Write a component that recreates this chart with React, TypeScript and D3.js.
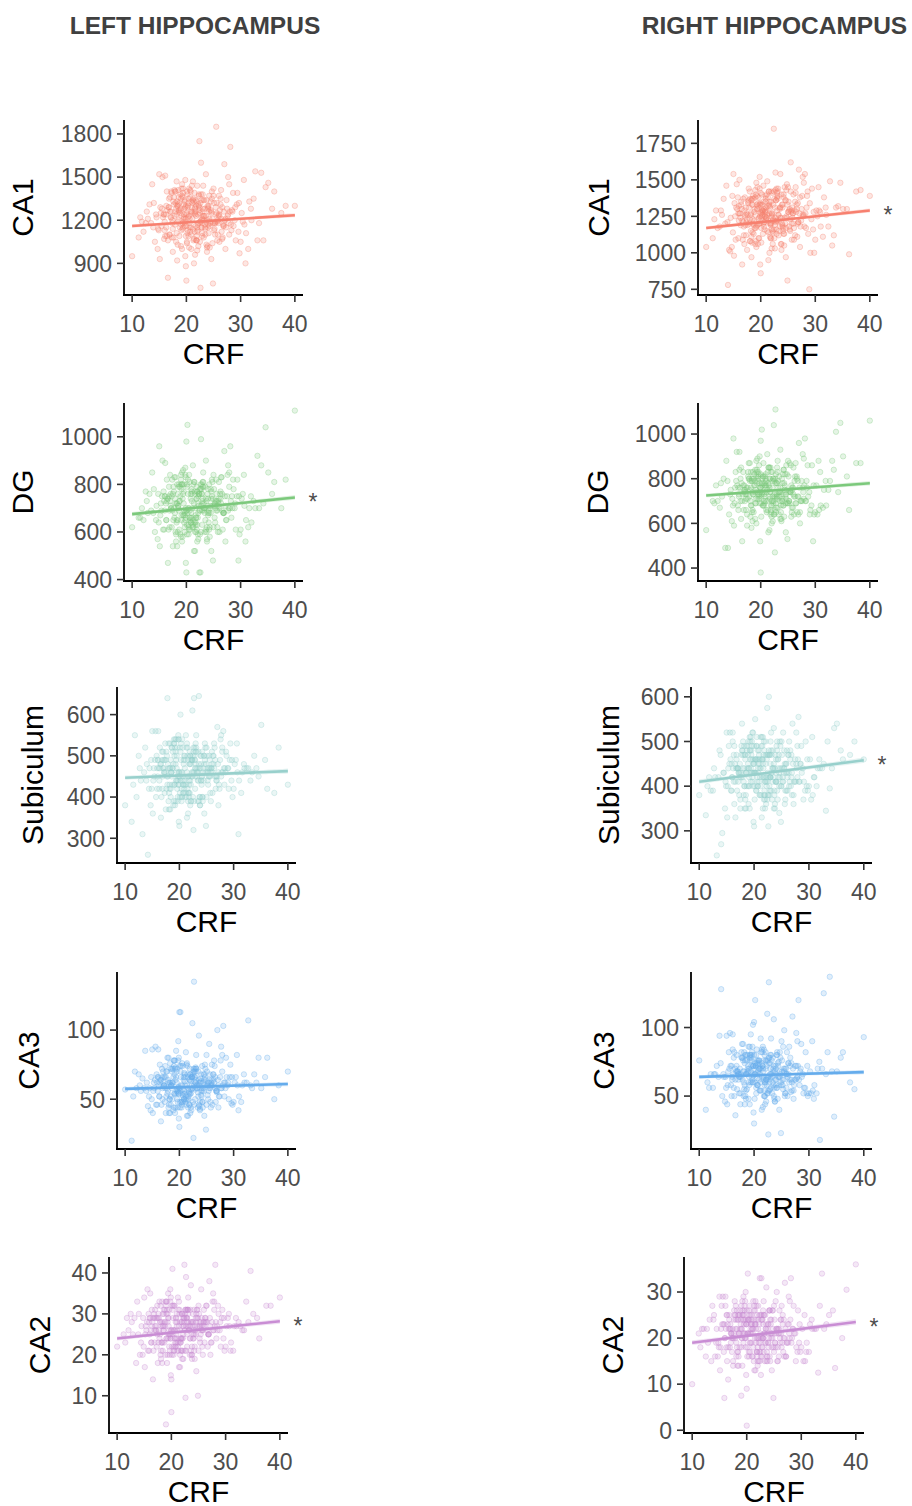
import * as d3 from "d3"

// CRF values, one per participant (shared by every panel)
const crf = [
  18.2, 22.5, 25.1, 19.7, 16.4, 27.3, 21.0, 23.8, 14.9, 20.3,
  26.2, 17.5, 24.4, 29.1, 19.0, 22.0, 15.6, 31.4, 20.8, 18.7,
  23.1, 25.9, 13.2, 21.6, 27.8, 19.4, 16.9, 24.0, 22.7, 35.1,
  17.9, 20.1, 28.6, 18.4, 23.5, 12.1, 26.7, 21.3, 19.9, 30.2,
  16.1, 24.8, 22.2, 33.8, 18.9, 25.5, 20.6, 14.2, 27.0, 23.3,
  19.2, 21.9, 29.8, 17.2, 24.6, 15.3, 22.9, 26.4, 20.0, 38.3,
  18.0, 23.0, 25.3, 11.2, 21.2, 28.1, 19.6, 16.6, 24.2, 32.0,
  22.4, 17.7, 26.9, 20.4, 13.7, 23.7, 19.3, 27.5, 21.7, 15.9,
  25.7, 18.5, 30.6, 22.1, 16.3, 24.9, 20.9, 34.6, 19.1, 23.9,
  14.5, 21.4, 26.0, 18.1, 28.9, 22.6, 17.0, 25.0, 20.2, 10.0,
  23.4, 19.8, 31.9, 16.8, 24.3, 21.1, 27.2, 18.3, 22.8, 36.2,
  15.1, 20.7, 25.6, 19.5, 29.4, 17.4, 23.6, 12.7, 21.8, 26.6,
  18.8, 24.1, 20.5, 33.1, 16.0, 22.3, 27.7, 19.0, 25.2, 14.0,
  21.5, 17.3, 28.3, 23.2, 19.7, 30.9, 15.5, 24.7, 20.0, 40.0,
  22.9, 18.6, 26.3, 13.5, 21.9, 25.4, 17.8, 29.6, 20.6, 23.0,
  16.5, 24.5, 19.4, 27.9, 22.0, 32.7, 18.2, 21.0, 25.8, 11.8,
  20.3, 23.8, 17.1, 26.8, 19.2, 28.4, 15.0, 22.5, 24.0, 37.5,
  18.4, 21.6, 30.0, 16.2, 23.1, 19.9, 26.1, 14.7, 22.2, 31.0,
  19.5, 21.2, 17.6, 24.2, 22.8, 16.7, 20.5, 26.5, 18.9, 23.6,
  21.8, 15.8, 25.3, 20.1, 18.3, 22.4, 27.1, 19.3, 23.9, 17.0,
  24.6, 20.7, 16.9, 22.6, 19.8, 28.7, 21.4, 18.1, 25.6, 13.9,
  17.4, 23.3, 20.9, 26.0, 15.2, 22.1, 19.1, 24.4, 29.3, 21.7,
  20.0, 18.6, 25.0, 22.9, 16.4, 21.0, 27.6, 19.7, 23.5, 12.5,
  22.2, 26.8, 18.0, 20.4, 24.8, 17.2, 21.5, 30.4, 19.5, 23.0,
  15.7, 21.9, 24.1, 19.0, 27.4, 22.5, 18.5, 25.8, 20.8, 33.4,
  23.7, 17.8, 20.2, 28.0, 21.1, 16.1, 24.5, 19.8, 22.7, 14.4,
  19.2, 25.2, 21.6, 17.5, 23.2, 26.3, 20.6, 18.2, 31.6, 22.0,
  24.0, 16.8, 22.3, 19.6, 27.9, 21.3, 18.7, 25.5, 20.3, 35.8,
  21.0, 23.8, 17.9, 26.1, 19.9, 22.8, 15.4, 24.7, 29.0, 20.5,
  18.4, 22.6, 25.9, 20.0, 16.6, 23.4, 19.4, 27.2, 21.7, 12.9,
  25.1, 19.0, 21.8, 17.3, 24.3, 22.0, 28.5, 18.8, 20.9, 32.4,
  22.4, 26.6, 19.7, 23.1, 15.9, 20.7, 24.9, 18.0, 21.5, 30.7,
  17.7, 21.2, 24.0, 19.3, 26.9, 22.9, 16.3, 20.1, 23.6, 14.8,
  23.0, 18.5, 22.1, 25.4, 20.4, 17.1, 27.7, 21.9, 19.6, 34.2,
  20.8, 24.6, 18.3, 22.7, 16.0, 25.7, 21.4, 19.1, 28.2, 11.5,
  26.4, 20.2, 23.5, 17.6, 21.6, 19.9, 24.2, 22.3, 18.6, 29.7,
]

const leftCA1 = [
  1240, 1050, 1320, 1180, 1400, 1150, 1290, 1010, 1130, 1220,
  1270, 980, 1190, 1060, 1350, 1120, 1500, 1000, 1260, 1090,
  1440, 1230, 1310, 960, 1180, 1420, 1100, 1280, 1600, 1460,
  1170, 1040, 1390, 1300, 1140, 1120, 1080, 1350, 880, 1250,
  1510, 1210, 1020, 1530, 1280, 1850, 1150, 1050, 1590, 1230,
  1000, 1330, 970, 1220, 930, 1250, 1180, 1410, 780, 1300,
  1400, 1260, 1100, 1080, 1470, 1710, 1190, 800, 1370, 1200,
  1750, 1310, 1160, 1090, 1450, 1030, 1360, 1280, 1160, 1070,
  1060, 1200, 1480, 1240, 1150, 760, 1330, 1430, 1130, 1300,
  1220, 900, 1370, 1050, 1200, 730, 1260, 1420, 1380, 950,
  1170, 1480, 1280, 1350, 1010, 1210, 1000, 920, 1340, 1400,
  930, 1120, 1250, 1310, 1390, 1180, 1520, 1260, 1060, 1290,
  1250, 1110, 1420, 1060, 1190, 1300, 1500, 1020, 1140, 1320,
  1390, 1080, 1130, 1230, 1160, 900, 1280, 1400, 1240, 1300,
  1090, 1360, 1310, 1180, 1060, 1190, 1410, 1120, 1180, 1380,
  1270, 1330, 1150, 1450, 990, 1540, 1110, 1250, 1200, 1190,
  1300, 980, 1220, 1160, 1450, 1270, 1520, 1190, 1150, 1250,
  1030, 1290, 1050, 1240, 1340, 1210, 1050, 1000, 1180, 1110,
  1210, 1340, 1080, 1260, 1150, 1290, 1230, 1120, 1380, 1190,
  1300, 1240, 1180, 1050, 1330, 1270, 1200, 1140, 1020, 1360,
  1250, 1410, 1100, 1190, 1290, 1160, 1070, 1280, 1320, 1150,
  1200, 1340, 1000, 1240, 1290, 1130, 1420, 1180, 1310, 1260,
  1160, 1270, 1370, 1210, 1090, 1440, 1230, 1330, 1100, 1180,
  1310, 1170, 1260, 1350, 1040, 1400, 1120, 1190, 1220, 1280,
  1220, 1060, 1300, 1170, 1340, 1250, 1310, 1100, 1400, 1180,
  1340, 1230, 1110, 1260, 1320, 1090, 1270, 950, 1200, 1240,
  1370, 1180, 1280, 1140, 1080, 1350, 1210, 1470, 1330, 1150,
  1170, 1290, 1380, 1240, 1100, 1060, 1320, 1240, 1130, 1280,
  1260, 1200, 1400, 1230, 1300, 1150, 1160, 1350, 1290, 1010,
  1190, 1320, 1180, 1250, 1060, 1280, 1390, 1210, 1340, 1210,
  1130, 1270, 1230, 1390, 1160, 1440, 1260, 1150, 1100, 1350,
  1290, 1070, 1340, 1200, 1240, 1360, 1180, 1320, 1250, 1170,
  1360, 1140, 1290, 1180, 1260, 1110, 1300, 1400, 1230, 1140,
  1230, 1410, 1170, 1290, 1320, 1260, 1240, 1090, 1280, 1060,
  1150, 1260, 1300, 1380, 1130, 1190, 1330, 1230, 1170, 1220,
  1210, 1290, 1150, 1330, 1240, 1090, 1210, 1370, 1260, 1320,
]

const rightCA1 = [
  1270, 1100, 1350, 1200, 1330, 1180, 1310, 1060, 1140, 1260,
  1290, 1020, 1240, 1000, 1380, 1160, 1470, 1110, 1280, 1130,
  1420, 1270, 1370, 1000, 1250, 1450, 1120, 1310, 1550, 1300,
  1200, 1070, 1420, 1330, 1180, 1170, 1110, 1380, 920, 1290,
  1500, 1240, 1060, 1310, 1300, 1620, 1180, 1020, 1570, 1260,
  1040, 1350, 1000, 1260, 970, 1250, 1220, 1450, 860, 1430,
  1420, 1290, 1160, 1100, 1490, 1540, 1230, 920, 1380, 1260,
  1850, 1340, 1210, 1130, 1460, 1060, 1390, 1300, 1200, 1100,
  1090, 1230, 1450, 1270, 1190, 810, 1370, 1480, 1170, 1330,
  1240, 950, 1400, 1080, 750, 1030, 1290, 1450, 1400, 1040,
  1220, 1520, 1310, 1370, 1050, 1240, 1040, 970, 1360, 990,
  980, 1160, 1280, 1340, 1440, 1210, 1540, 1290, 1100, 1330,
  1280, 1150, 1460, 1050, 1220, 1330, 1520, 1060, 1180, 780,
  1420, 1120, 1170, 1260, 1200, 1280, 1310, 1430, 1270, 1390,
  1130, 1390, 1350, 1200, 1100, 1230, 1440, 1160, 1210, 1410,
  1300, 1360, 1190, 1480, 1030, 1490, 1150, 1280, 1240, 1290,
  1330, 1020, 1250, 1200, 1480, 1310, 1540, 1220, 1190, 1420,
  1070, 1320, 1090, 1270, 1370, 1250, 1090, 1040, 1220, 1180,
  1320, 1150, 1260, 1400, 1210, 1090, 1350, 1280, 1170, 1240,
  1190, 1380, 1300, 1240, 1110, 1420, 1270, 1330, 1200, 1060,
  1360, 1250, 1180, 1310, 1440, 1130, 1220, 1370, 1290, 1210,
  1270, 1120, 1390, 1200, 1340, 1260, 1080, 1450, 1230, 1310,
  1410, 1200, 1280, 1160, 1350, 1240, 1390, 1100, 1300, 1180,
  1150, 1340, 1230, 1290, 1470, 1190, 1330, 1250, 1060, 1380,
  1300, 1420, 1170, 1260, 1220, 1370, 1140, 1310, 1250, 1120,
  1240, 1360, 1290, 1180, 1400, 1270, 1200, 1330, 1430, 1010,
  1180, 1290, 1350, 1230, 1440, 1120, 1300, 1260, 1380, 1270,
  1330, 1210, 1140, 1380, 1260, 1320, 1190, 1420, 1280, 1300,
  1230, 1400, 1310, 1170, 1280, 1360, 1090, 1250, 1340, 1200,
  1370, 1190, 1270, 1330, 1220, 1150, 1300, 1380, 1110, 1260,
  1280, 1430, 1200, 1310, 1130, 1250, 1390, 1220, 1350, 1180,
  1160, 1300, 1240, 1390, 1270, 1210, 1330, 1080, 1420, 1290,
  1350, 1260, 1180, 1300, 1210, 1440, 1240, 1170, 1310, 1390,
  1220, 1330, 1410, 1150, 1290, 1380, 1260, 1200, 1100, 1320,
  1290, 1170, 1360, 1240, 1320, 1200, 1140, 1400, 1270, 1230,
  1410, 1250, 1310, 1190, 1270, 1340, 1130, 1230, 1370, 1280,
]

const leftDG = [
  720, 590, 780, 680, 820, 650, 760, 560, 640, 700,
  760, 540, 700, 610, 800, 630, 900, 620, 740, 610,
  850, 720, 760, 520, 700, 860, 620, 740, 990, 850,
  680, 590, 820, 760, 650, 650, 610, 800, 470, 740,
  890, 710, 570, 880, 750, 820, 660, 600, 940, 700,
  560, 790, 590, 700, 520, 720, 690, 830, 430, 820,
  830, 740, 640, 660, 880, 960, 690, 470, 800, 640,
  430, 770, 680, 630, 850, 600, 800, 750, 670, 610,
  620, 700, 840, 720, 650, 480, 780, 1040, 650, 760,
  710, 520, 810, 590, 700, 430, 730, 840, 1050, 620,
  680, 870, 750, 790, 580, 700, 560, 540, 780, 810,
  540, 650, 730, 770, 820, 690, 900, 730, 600, 760,
  730, 640, 840, 920, 690, 760, 880, 580, 660, 780,
  810, 620, 660, 720, 670, 560, 750, 820, 980, 1110,
  630, 790, 770, 690, 610, 700, 830, 480, 690, 810,
  740, 780, 670, 850, 560, 700, 640, 730, 710, 700,
  760, 570, 710, 680, 850, 750, 960, 690, 670, 700,
  600, 760, 610, 720, 790, 700, 600, 570, 680, 650,
  720, 650, 790, 680, 760, 610, 700, 830, 590, 740,
  660, 770, 720, 630, 800, 690, 750, 580, 710, 840,
  740, 610, 690, 800, 650, 780, 720, 560, 760, 680,
  820, 700, 640, 740, 670, 590, 780, 710, 750, 630,
  690, 800, 620, 760, 730, 660, 840, 600, 700, 770,
  750, 680, 720, 590, 810, 700, 640, 760, 670, 730,
  610, 740, 690, 820, 650, 780, 710, 600, 760, 700,
  730, 660, 790, 700, 620, 750, 680, 840, 710, 650,
  800, 720, 600, 760, 690, 740, 810, 650, 700, 770,
  680, 750, 710, 640, 790, 620, 730, 690, 820, 760,
  770, 620, 740, 700, 660, 800, 690, 750, 720, 610,
  650, 780, 730, 690, 740, 600, 760, 710, 640, 680,
  710, 840, 660, 750, 620, 770, 700, 790, 680, 730,
  760, 690, 620, 810, 730, 660, 740, 600, 770, 710,
  700, 630, 780, 740, 680, 720, 650, 800, 610, 760,
  790, 710, 660, 730, 620, 760, 690, 740, 800, 720,
  640, 770, 720, 600, 750, 690, 810, 670, 730, 660,
  720, 680, 790, 650, 700, 830, 610, 760, 690, 750,
]

const rightDG = [
  760, 640, 810, 720, 850, 700, 790, 610, 680, 740,
  790, 590, 750, 660, 840, 680, 920, 670, 780, 650,
  880, 760, 800, 570, 740, 890, 660, 780, 1110, 900,
  720, 630, 860, 800, 700, 700, 650, 830, 520, 770,
  920, 750, 610, 1010, 790, 860, 700, 640, 960, 740,
  600, 830, 640, 740, 560, 760, 730, 870, 380, 870,
  870, 780, 690, 700, 910, 980, 730, 520, 840, 680,
  1040, 810, 720, 680, 880, 650, 840, 790, 710, 660,
  670, 740, 880, 760, 700, 530, 820, 1050, 690, 800,
  750, 560, 850, 630, 740, 470, 770, 880, 1020, 570,
  720, 900, 790, 830, 630, 740, 600, 580, 820, 660,
  590, 690, 770, 810, 860, 730, 930, 780, 640, 800,
  770, 680, 870, 880, 730, 800, 910, 620, 700, 490,
  850, 660, 700, 760, 710, 830, 790, 860, 970, 1060,
  670, 830, 810, 490, 650, 740, 870, 520, 730, 850,
  780, 820, 710, 890, 600, 790, 680, 770, 750, 770,
  800, 620, 750, 720, 880, 790, 980, 730, 710, 870,
  650, 800, 650, 760, 830, 740, 640, 610, 720, 680,
  790, 700, 760, 840, 650, 730, 810, 690, 770, 620,
  740, 680, 870, 720, 790, 640, 760, 830, 700, 750,
  690, 810, 740, 660, 780, 720, 850, 700, 630, 790,
  760, 640, 800, 730, 690, 830, 710, 770, 680, 740,
  820, 730, 690, 780, 620, 760, 700, 860, 740, 670,
  700, 790, 750, 680, 820, 730, 770, 640, 800, 710,
  770, 660, 820, 740, 700, 790, 610, 760, 720, 840,
  680, 800, 730, 770, 650, 840, 720, 690, 780, 730,
  810, 700, 760, 640, 790, 720, 680, 830, 750, 700,
  730, 770, 690, 820, 710, 660, 800, 740, 770, 810,
  660, 740, 800, 720, 760, 690, 830, 710, 640, 780,
  790, 720, 670, 760, 700, 810, 740, 650, 800, 720,
  740, 690, 850, 710, 780, 630, 760, 820, 700, 750,
  700, 810, 730, 670, 760, 740, 690, 790, 720, 660,
  830, 750, 700, 780, 640, 720, 800, 690, 760, 710,
  720, 660, 790, 740, 810, 700, 760, 680, 830, 740,
  770, 730, 680, 800, 720, 650, 780, 750, 700, 690,
  690, 780, 740, 710, 850, 760, 680, 800, 730, 770,
]

const leftSub = [
  470, 400, 500, 450, 520, 430, 490, 380, 420, 460,
  500, 370, 460, 420, 530, 440, 560, 410, 480, 430,
  550, 470, 310, 360, 460, 540, 420, 480, 640, 575,
  450, 400, 510, 490, 440, 400, 420, 520, 340, 480,
  560, 460, 390, 500, 480, 500, 440, 260, 570, 470,
  380, 510, 400, 460, 360, 470, 450, 530, 330, 520,
  530, 480, 430, 340, 550, 560, 460, 350, 510, 470,
  610, 500, 450, 420, 520, 400, 510, 490, 450, 420,
  410, 460, 530, 480, 440, 330, 500, 450, 430, 500,
  470, 350, 510, 410, 470, 320, 470, 520, 600, 380,
  440, 550, 480, 510, 390, 450, 380, 370, 500, 420,
  360, 430, 470, 500, 530, 460, 645, 470, 400, 490,
  470, 430, 540, 440, 450, 490, 550, 390, 440, 480,
  520, 410, 430, 460, 440, 310, 490, 530, 460, 430,
  420, 520, 500, 460, 410, 450, 640, 440, 450, 530,
  480, 500, 440, 520, 380, 470, 430, 470, 460, 550,
  490, 380, 470, 450, 540, 470, 560, 460, 440, 410,
  400, 490, 420, 470, 510, 460, 410, 380, 450, 440,
  470, 430, 510, 450, 490, 400, 460, 520, 380, 480,
  440, 500, 460, 410, 530, 450, 480, 390, 470, 510,
  480, 410, 450, 520, 430, 500, 460, 370, 490, 440,
  530, 460, 420, 480, 440, 390, 500, 470, 490, 410,
  450, 520, 400, 490, 470, 430, 540, 390, 460, 500,
  490, 440, 470, 390, 520, 460, 420, 490, 440, 470,
  400, 480, 450, 530, 420, 500, 460, 390, 490, 460,
  470, 430, 510, 460, 400, 490, 440, 540, 460, 420,
  520, 470, 390, 490, 450, 480, 520, 420, 460, 500,
  440, 490, 460, 420, 510, 400, 470, 450, 530, 490,
  500, 400, 480, 460, 430, 520, 450, 490, 470, 400,
  420, 510, 470, 450, 480, 390, 490, 460, 410, 440,
  460, 540, 430, 490, 400, 500, 460, 510, 440, 470,
  490, 450, 400, 520, 470, 430, 480, 390, 500, 460,
  450, 410, 500, 480, 440, 470, 420, 520, 390, 490,
  510, 460, 430, 470, 400, 490, 450, 480, 520, 470,
  410, 500, 470, 390, 490, 450, 530, 430, 470, 430,
  470, 440, 510, 420, 450, 540, 400, 490, 450, 490,
]

const rightSub = [
  440, 380, 470, 420, 490, 410, 460, 360, 400, 430,
  470, 350, 440, 410, 500, 410, 520, 400, 450, 400,
  520, 450, 245, 350, 440, 510, 390, 460, 600, 540,
  420, 370, 490, 460, 420, 390, 400, 490, 320, 460,
  520, 440, 360, 395, 450, 480, 410, 295, 540, 440,
  350, 480, 390, 430, 340, 440, 420, 500, 310, 500,
  500, 450, 410, 335, 510, 555, 430, 330, 480, 440,
  575, 470, 430, 390, 480, 380, 480, 460, 420, 390,
  390, 430, 510, 450, 410, 320, 470, 530, 400, 470,
  430, 330, 480, 380, 440, 310, 440, 500, 550, 380,
  410, 520, 460, 470, 370, 420, 360, 350, 470, 460,
  330, 400, 450, 470, 500, 430, 530, 440, 370, 460,
  440, 410, 510, 345, 420, 460, 520, 360, 420, 270,
  490, 380, 410, 430, 410, 420, 450, 500, 430, 460,
  390, 490, 470, 420, 380, 430, 540, 400, 420, 500,
  450, 470, 410, 490, 350, 450, 400, 440, 430, 420,
  460, 350, 440, 420, 510, 450, 520, 430, 410, 470,
  370, 460, 400, 440, 480, 430, 390, 350, 420, 420,
  460, 400, 430, 500, 380, 440, 490, 410, 470, 350,
  420, 390, 520, 430, 470, 370, 450, 500, 410, 440,
  400, 480, 440, 380, 460, 430, 510, 410, 360, 470,
  450, 370, 480, 430, 400, 500, 420, 460, 390, 440,
  490, 430, 400, 470, 360, 450, 410, 520, 440, 390,
  410, 470, 440, 390, 490, 430, 460, 370, 480, 420,
  460, 380, 490, 440, 410, 470, 350, 450, 430, 500,
  390, 480, 430, 460, 380, 500, 420, 400, 470, 430,
  480, 410, 450, 370, 470, 430, 400, 490, 440, 410,
  430, 460, 400, 490, 420, 380, 480, 440, 460, 480,
  380, 440, 480, 420, 450, 400, 490, 420, 370, 460,
  470, 420, 390, 450, 410, 480, 440, 380, 470, 420,
  440, 400, 500, 420, 460, 370, 450, 490, 410, 440,
  410, 480, 430, 390, 450, 440, 400, 470, 420, 380,
  490, 440, 410, 460, 380, 420, 470, 400, 450, 410,
  420, 380, 470, 440, 490, 410, 450, 390, 500, 440,
  460, 430, 400, 480, 420, 370, 460, 440, 410, 400,
  400, 460, 440, 420, 510, 450, 390, 470, 430, 460,
]

const leftCA3 = [
  62, 48, 70, 55, 75, 52, 66, 42, 50, 60,
  68, 40, 58, 50, 78, 54, 88, 48, 64, 50,
  82, 60, 65, 38, 58, 85, 50, 63, 135, 58,
  56, 44, 80, 72, 52, 58, 48, 75, 36, 62,
  86, 60, 42, 68, 66, 90, 53, 45, 100, 58,
  40, 72, 46, 60, 38, 62, 57, 78, 30, 60,
  80, 64, 50, 20, 84, 103, 58, 34, 74, 62,
  105, 70, 55, 48, 85, 45, 73, 66, 56, 46,
  48, 60, 82, 63, 52, 28, 69, 80, 54, 65,
  58, 38, 75, 46, 60, 22, 62, 82, 113, 57,
  55, 92, 68, 72, 44, 60, 44, 40, 70, 80,
  40, 52, 64, 70, 75, 58, 96, 60, 46, 66,
  62, 52, 76, 60, 56, 66, 88, 44, 53, 62,
  74, 48, 52, 60, 56, 42, 64, 75, 113, 70,
  50, 72, 68, 58, 46, 56, 80, 47, 57, 73,
  64, 68, 54, 82, 40, 107, 50, 63, 60, 70,
  66, 43, 60, 56, 78, 62, 86, 58, 53, 50,
  46, 66, 48, 60, 72, 59, 46, 42, 57, 52,
  62, 52, 70, 56, 66, 46, 60, 74, 42, 64,
  55, 68, 60, 48, 76, 58, 64, 44, 62, 70,
  64, 48, 58, 72, 54, 66, 60, 40, 68, 56,
  74, 60, 50, 64, 56, 44, 68, 62, 66, 52,
  58, 70, 46, 66, 62, 54, 78, 44, 60, 68,
  66, 56, 62, 44, 72, 60, 50, 66, 56, 62,
  46, 64, 58, 74, 52, 68, 60, 44, 66, 58,
  62, 54, 70, 60, 48, 66, 56, 78, 60, 52,
  72, 62, 44, 66, 58, 64, 74, 50, 60, 68,
  56, 66, 60, 50, 70, 46, 62, 58, 74, 66,
  68, 48, 64, 60, 54, 72, 58, 66, 62, 46,
  52, 70, 62, 58, 64, 44, 66, 60, 50, 56,
  60, 78, 54, 66, 48, 68, 58, 72, 56, 62,
  66, 58, 48, 72, 62, 54, 64, 44, 68, 60,
  58, 50, 68, 64, 56, 62, 52, 74, 46, 66,
  70, 60, 54, 62, 48, 66, 58, 64, 72, 62,
  50, 68, 62, 46, 66, 58, 76, 54, 62, 52,
  62, 56, 70, 52, 58, 80, 48, 66, 58, 66,
]

const rightCA3 = [
  68, 52, 76, 60, 82, 58, 72, 46, 56, 66,
  74, 44, 64, 56, 86, 60, 96, 52, 70, 55,
  92, 66, 72, 42, 63, 95, 55, 70, 133, 68,
  62, 48, 88, 80, 58, 66, 53, 82, 38, 68,
  95, 66, 46, 137, 72, 98, 58, 50, 108, 64,
  44, 80, 50, 66, 40, 68, 62, 86, 30, 55,
  88, 70, 55, 40, 92, 120, 64, 36, 82, 18,
  110, 78, 60, 52, 94, 48, 80, 72, 62, 50,
  52, 66, 90, 70, 56, 23, 76, 35, 58, 72,
  64, 40, 82, 50, 66, 22, 68, 90, 120, 76,
  60, 102, 75, 80, 48, 66, 48, 44, 78, 82,
  44, 58, 70, 78, 82, 64, 106, 66, 50, 72,
  68, 56, 84, 66, 62, 72, 96, 48, 58, 128,
  82, 52, 58, 66, 62, 48, 70, 82, 104, 93,
  55, 80, 74, 64, 50, 62, 88, 52, 63, 80,
  70, 75, 60, 90, 44, 125, 55, 70, 66, 56,
  72, 46, 66, 62, 86, 68, 94, 64, 58, 60,
  50, 72, 52, 66, 80, 65, 50, 46, 62, 58,
  72, 60, 66, 80, 54, 68, 76, 62, 70, 50,
  64, 58, 86, 66, 74, 52, 70, 80, 62, 68,
  58, 76, 68, 54, 72, 64, 84, 60, 50, 74,
  70, 52, 76, 66, 58, 82, 64, 72, 56, 68,
  80, 66, 58, 74, 50, 70, 62, 86, 68, 56,
  62, 74, 68, 56, 78, 66, 72, 52, 76, 64,
  72, 54, 80, 68, 62, 76, 48, 70, 66, 82,
  56, 78, 66, 72, 54, 84, 64, 60, 74, 66,
  78, 62, 70, 52, 76, 66, 58, 82, 70, 60,
  66, 72, 58, 80, 64, 54, 76, 68, 72, 78,
  54, 68, 78, 64, 72, 60, 82, 64, 52, 74,
  76, 64, 56, 70, 62, 78, 68, 54, 76, 66,
  68, 60, 84, 64, 74, 50, 70, 80, 62, 70,
  62, 78, 66, 56, 72, 68, 60, 76, 64, 54,
  82, 70, 62, 76, 54, 66, 78, 60, 72, 64,
  66, 54, 76, 70, 80, 62, 72, 58, 82, 68,
  74, 68, 58, 78, 64, 52, 74, 70, 62, 60,
  60, 74, 70, 64, 86, 72, 56, 76, 66, 72,
]

const leftCA2 = [
  27, 21, 30, 25, 31, 23, 28, 19, 22, 26,
  29, 18, 26, 22, 33, 24, 36, 21, 28, 23,
  34, 27, 29, 17, 26, 35, 23, 28, 39, 30,
  25, 20, 32, 30, 24, 26, 22, 31, 15, 27,
  35, 27, 19, 33, 28, 36, 24, 20, 38, 26,
  18, 30, 21, 26, 16, 27, 25, 32, 6, 32,
  32, 28, 23, 25, 34, 42, 26, 14, 31, 27,
  42, 29, 25, 21, 33, 20, 30, 28, 24, 21,
  22, 26, 30, 27, 23, 10, 29, 40.5, 24, 28,
  27, 17, 31, 21, 26, 9.5, 27, 32, 41, 22,
  24, 36, 29, 30, 19, 26, 20, 18, 29, 24,
  17, 23, 27, 29, 31, 25, 37, 28, 21, 28,
  27, 24, 32, 26, 25, 28, 35, 3, 24, 30,
  31, 22, 24, 26, 25, 21, 28, 31, 14, 34,
  22, 30, 29, 18, 21, 25, 33, 24, 26, 31,
  28, 29, 24, 33, 19, 27, 23, 27, 26, 29,
  29, 20, 26, 25, 33, 27, 34, 26, 24, 32,
  21, 28, 22, 26, 30, 25, 23, 20, 25, 23,
  27, 23, 30, 25, 29, 21, 26, 32, 20, 28,
  24, 30, 27, 22, 33, 26, 29, 20, 27, 31,
  28, 22, 26, 31, 24, 30, 27, 19, 29, 25,
  32, 27, 23, 28, 25, 21, 30, 27, 29, 23,
  26, 31, 21, 29, 27, 24, 33, 20, 27, 30,
  29, 25, 28, 20, 31, 27, 23, 29, 25, 27,
  21, 28, 26, 32, 23, 30, 27, 20, 29, 26,
  28, 24, 31, 27, 21, 29, 25, 33, 27, 23,
  31, 28, 20, 29, 26, 28, 32, 23, 27, 30,
  25, 29, 27, 22, 31, 21, 28, 26, 32, 29,
  30, 22, 28, 27, 24, 31, 26, 29, 28, 21,
  23, 31, 28, 26, 29, 20, 29, 27, 23, 25,
  27, 33, 24, 29, 22, 30, 26, 31, 25, 28,
  29, 26, 21, 31, 28, 24, 29, 20, 30, 27,
  26, 22, 30, 28, 25, 28, 23, 32, 21, 29,
  31, 27, 24, 28, 22, 29, 26, 28, 31, 28,
  22, 30, 28, 21, 29, 26, 33, 24, 28, 23,
  28, 25, 31, 23, 26, 34, 21, 29, 26, 29,
]

const rightCA2 = [
  22, 17, 24, 20, 25, 19, 23, 15, 18, 21,
  24, 14, 21, 18, 27, 20, 29, 17, 23, 18,
  28, 22, 24, 13, 21, 29, 18, 23, 33, 25,
  20, 16, 27, 25, 19, 22, 17, 26, 12, 22,
  29, 22, 15, 34, 23, 30, 19, 16, 32, 21,
  14, 25, 17, 21, 13, 22, 20, 27, 1, 30.5,
  27, 23, 18, 21, 28, 33, 21, 11, 26, 22,
  33, 24, 20, 17, 27, 16, 25, 23, 19, 7,
  18, 21, 25, 22, 18, 7, 24, 23, 20, 23,
  22, 13, 26, 16, 21, 12, 22, 27, 34, 10,
  19, 30, 24, 25, 15, 21, 16, 14, 24, 13.5,
  13, 19, 22, 24, 26, 20, 31, 22, 17, 23,
  22, 20, 27, 12.5, 20, 23, 29, 7.5, 19, 25,
  26, 17, 20, 21, 20, 17, 23, 26, 9, 36,
  18, 25, 24, 15, 17, 21, 28, 19, 21, 26,
  23, 24, 19, 28, 15, 22, 18, 22, 21, 22,
  24, 16, 21, 20, 28, 22, 29, 21, 19, 20,
  17, 23, 18, 22, 25, 20, 19, 16, 20, 19,
  23, 18, 21, 26, 16, 22, 25, 19, 24, 15,
  20, 17, 28, 21, 24, 15, 22, 26, 19, 23,
  18, 25, 22, 16, 24, 21, 27, 19, 15, 24,
  22, 15, 25, 21, 18, 27, 20, 23, 17, 22,
  26, 21, 17, 24, 15, 22, 19, 28, 22, 16,
  19, 24, 22, 16, 26, 21, 23, 15, 25, 20,
  23, 16, 26, 22, 19, 25, 14, 22, 21, 27,
  17, 25, 21, 24, 16, 27, 20, 18, 24, 19,
  25, 19, 23, 15, 25, 21, 17, 26, 23, 18,
  21, 24, 17, 26, 20, 15, 25, 22, 24, 26,
  16, 22, 25, 20, 23, 18, 27, 20, 15, 24,
  24, 20, 16, 23, 18, 25, 21, 16, 24, 19,
  21, 18, 27, 20, 24, 14, 22, 26, 19, 22,
  19, 25, 21, 17, 23, 22, 18, 24, 20, 15,
  26, 22, 18, 24, 16, 20, 25, 18, 23, 19,
  20, 16, 24, 22, 26, 19, 23, 17, 27, 22,
  23, 21, 17, 25, 20, 15, 24, 22, 19, 18,
  18, 24, 22, 20, 28, 23, 16, 25, 21, 23,
]

const regions = ["CA1", "DG", "Subiculum", "CA3", "CA2"]
const sides = ["LEFT HIPPOCAMPUS", "RIGHT HIPPOCAMPUS"]
const crfTicks = [10, 20, 30, 40]

// fitted line, value at CRF = 10 and CRF = 40
const fitLeft = [[1160, 1235], [675, 745], [447, 463], [57.5, 61], [24, 28.2]]
const fitRight = [[1170, 1290], [725, 780], [410, 458], [64, 67.5], [19, 23.5]]
// half width of the confidence band
const bandLeft = [14, 10, 6, 1.6, 0.6]
const bandRight = [14, 10, 6, 1.6, 0.6]
const sigLeft = [false, true, false, false, true]
const sigRight = [true, false, true, false, true]

const yTicksLeft = [[900, 1200, 1500, 1800], [400, 600, 800, 1000], [300, 400, 500, 600], [50, 100], [10, 20, 30, 40]]
const yTicksRight = [[750, 1000, 1250, 1500, 1750], [400, 600, 800, 1000], [300, 400, 500, 600], [50, 100], [0, 10, 20, 30]]
const yDomainLeft = [[680, 1897], [394, 1142], [240, 667], [14, 142], [0.9, 43.9]]
const yDomainRight = [[711, 1910], [342, 1139], [228, 622], [11.4, 140.5], [-0.6, 37.6]]

const colors = ["#F7806F", "#7CC97C", "#98D0CC", "#65ACEC", "#C98DD4"]

// axis frames: left, right, top, bottom (px)
const framesLeft = [
  { l: 124, r: 303, t: 120, b: 295 },
  { l: 124, r: 303, t: 403, b: 581 },
  { l: 117, r: 296, t: 687, b: 863 },
  { l: 117, r: 296, t: 972, b: 1149 },
  { l: 109, r: 288, t: 1257, b: 1433 },
]
const framesRight = [
  { l: 698, r: 878, t: 120, b: 295 },
  { l: 698, r: 878, t: 403, b: 581 },
  { l: 691, r: 872, t: 687, b: 863 },
  { l: 691, r: 872, t: 972, b: 1149 },
  { l: 684, r: 864, t: 1257, b: 1433 },
]
const titleXLeft = [33, 33, 43, 39, 50]
const titleXRight = [609, 608, 619, 614, 623]

const FONT = "'Liberation Sans', Arial, Helvetica, sans-serif"

function Panel({ frame, values, yDomain, yTicks, fit, band, color, label, titleX, sig }) {
  const x = d3.scaleLinear().domain([8.5, 41.5]).range([frame.l, frame.r])
  const y = d3.scaleLinear().domain(yDomain).range([frame.b, frame.t])
  const fitAt = (c) => fit[0] + ((fit[1] - fit[0]) * (c - 10)) / 30
  const steps = d3.range(10, 40.001, 0.5)
  const spread = (c) => band * (0.55 + (0.45 * Math.abs(c - 22)) / 18)
  const bandArea = d3
    .area()
    .x((c) => x(c))
    .y0((c) => y(fitAt(c) - spread(c)))
    .y1((c) => y(fitAt(c) + spread(c)))
  const line = d3
    .line()
    .x((c) => x(c))
    .y((c) => y(fitAt(c)))
  const cy = (frame.t + frame.b) / 2
  const cx = (frame.l + frame.r) / 2

  return (
    <g>
      {values.map((v, i) => (
        <circle
          key={i}
          cx={x(crf[i])}
          cy={y(v)}
          r={2.7}
          fill={color}
          fillOpacity={0.2}
          stroke={color}
          strokeOpacity={0.4}
          strokeWidth={0.8}
        />
      ))}
      <path d={bandArea(steps)} fill={color} fillOpacity={0.25} />
      <path d={line([10, 40])} fill="none" stroke={color} strokeWidth={2.6} />

      <line x1={frame.l} x2={frame.l} y1={frame.t} y2={frame.b + 0.9} stroke="#000" strokeWidth={1.8} />
      <line x1={frame.l - 0.9} x2={frame.r} y1={frame.b} y2={frame.b} stroke="#000" strokeWidth={1.8} />

      {yTicks.map((t) => (
        <g key={t} transform={`translate(0,${y(t)})`}>
          <line x1={frame.l - 7} x2={frame.l} stroke="#333" strokeWidth={1.6} />
          <text
            x={frame.l - 12}
            dy="0.36em"
            textAnchor="end"
            fontSize={23}
            fill="#4D4D4D"
            fontFamily={FONT}
          >
            {t}
          </text>
        </g>
      ))}
      {crfTicks.map((t) => (
        <g key={t} transform={`translate(${x(t)},0)`}>
          <line y1={frame.b} y2={frame.b + 7} stroke="#333" strokeWidth={1.6} />
          <text y={frame.b + 36.5} textAnchor="middle" fontSize={23} fill="#4D4D4D" fontFamily={FONT}>
            {t}
          </text>
        </g>
      ))}

      <text x={cx} y={frame.b + 68.5} textAnchor="middle" fontSize={30} fill="#000" fontFamily={FONT}>
        CRF
      </text>
      <text
        transform={`translate(${titleX},${cy}) rotate(-90)`}
        textAnchor="middle"
        fontSize={30}
        fill="#000"
        fontFamily={FONT}
      >
        {label}
      </text>
      {sig && (
        <text x={frame.r + 10} y={y(fit[1]) + 13} textAnchor="middle" fontSize={23} fill="#4D4D4D" fontFamily={FONT}>
          *
        </text>
      )}
    </g>
  )
}

export default function App() {
  const leftSets = [leftCA1, leftDG, leftSub, leftCA3, leftCA2]
  const rightSets = [rightCA1, rightDG, rightSub, rightCA3, rightCA2]

  return (
    <svg
      width={912}
      height={1506}
      viewBox="0 0 912 1506"
      style={{ position: "absolute", left: 0, top: 0, background: "#fff" }}
    >
      <rect width={912} height={1506} fill="#fff" />
      <text x={195} y={34} textAnchor="middle" fontSize={24.5} fontWeight="bold" fill="#404040" fontFamily={FONT}>
        {sides[0]}
      </text>
      <text x={774.5} y={34} textAnchor="middle" fontSize={24.5} fontWeight="bold" fill="#404040" fontFamily={FONT}>
        {sides[1]}
      </text>

      {regions.map((r, i) => (
        <Panel
          key={"L" + r}
          frame={framesLeft[i]}
          values={leftSets[i]}
          yDomain={yDomainLeft[i]}
          yTicks={yTicksLeft[i]}
          fit={fitLeft[i]}
          band={bandLeft[i]}
          color={colors[i]}
          label={r}
          titleX={titleXLeft[i]}
          sig={sigLeft[i]}
        />
      ))}
      {regions.map((r, i) => (
        <Panel
          key={"R" + r}
          frame={framesRight[i]}
          values={rightSets[i]}
          yDomain={yDomainRight[i]}
          yTicks={yTicksRight[i]}
          fit={fitRight[i]}
          band={bandRight[i]}
          color={colors[i]}
          label={r}
          titleX={titleXRight[i]}
          sig={sigRight[i]}
        />
      ))}
    </svg>
  )
}
